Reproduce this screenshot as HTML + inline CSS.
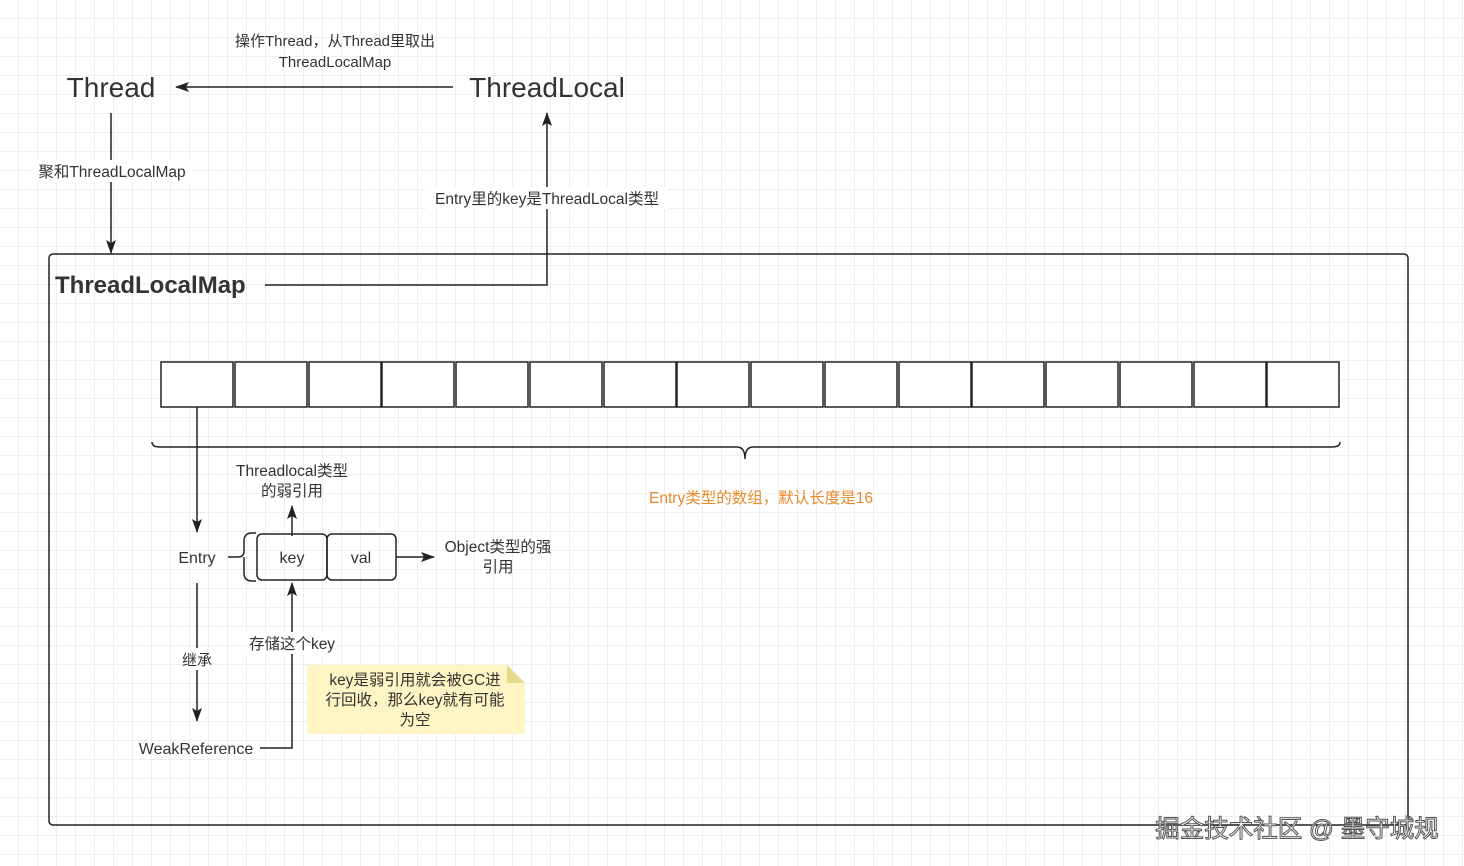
<!DOCTYPE html>
<html><head><meta charset="utf-8"><style>
html,body{margin:0;padding:0;background:#fff}
body{width:1464px;height:866px;overflow:hidden;
background-image:linear-gradient(#efefef 1px,transparent 1px),linear-gradient(90deg,#efefef 1px,transparent 1px);
background-size:19px 19px;background-position:-1px -1px;}
svg{position:absolute;left:0;top:0}
text{font-family:"Liberation Sans","Noto Sans CJK SC",sans-serif;fill:#333}
</style></head><body>
<svg width="1464" height="866" viewBox="0 0 1464 866">
<defs><marker id="a" markerWidth="14" markerHeight="12" refX="13" refY="6" orient="auto" markerUnits="userSpaceOnUse"><path d="M0,1 L14,6 L0,11 L3,6 Z" fill="#222"/></marker></defs>
<g stroke="#222" stroke-width="1.5" fill="none">
<line x1="453" y1="87" x2="176" y2="87" marker-end="url(#a)"/>
<line x1="111" y1="113" x2="111" y2="253" marker-end="url(#a)"/>
<polyline points="265,285 547,285 547,113" marker-end="url(#a)"/>
<rect x="49" y="254" width="1359" height="571" rx="4"/>
<line x1="197" y1="407" x2="197" y2="532" marker-end="url(#a)"/>
<path d="M152,442 q0,5 8,5 L737,447 q8,0 8,12 q0,-12 8,-12 L1332,447 q8,0 8,-5"/>
<line x1="197" y1="583" x2="197" y2="721" marker-end="url(#a)"/>
<polyline points="260,748 292,748 292,583" marker-end="url(#a)"/>
<line x1="292" y1="536" x2="292" y2="506" marker-end="url(#a)"/>
<line x1="396" y1="557" x2="434" y2="557" marker-end="url(#a)"/>
<path d="M228,557 h10 q6,0 6,-6 v-10 q0,-8 8,-8 h4 M244,557 q0,0 0,6 v10 q0,8 8,8 h4" />
<rect x="257" y="534" width="70" height="46" rx="5"/>
<rect x="327" y="534" width="69" height="46" rx="5"/>
</g>
<g stroke="#222" stroke-width="1.5" fill="#fff">
<rect x="161" y="362" width="72" height="45"/><rect x="235" y="362" width="72" height="45"/><rect x="309" y="362" width="72" height="45"/><rect x="382" y="362" width="72" height="45"/><rect x="456" y="362" width="72" height="45"/><rect x="530" y="362" width="72" height="45"/><rect x="604" y="362" width="72" height="45"/><rect x="677" y="362" width="72" height="45"/><rect x="751" y="362" width="72" height="45"/><rect x="825" y="362" width="72" height="45"/><rect x="899" y="362" width="72" height="45"/><rect x="972" y="362" width="72" height="45"/><rect x="1046" y="362" width="72" height="45"/><rect x="1120" y="362" width="72" height="45"/><rect x="1194" y="362" width="72" height="45"/><rect x="1267" y="362" width="72" height="45"/>
</g>
<path d="M307,665 L507,665 L525,683 L525,734 L307,734 Z" fill="#fff4c3"/>
<path d="M507,665 L525,683 L507,683 Z" fill="#e6d88c"/>
<text x="111" y="97" font-size="28" text-anchor="middle">Thread</text>
<text x="547" y="97" font-size="28" text-anchor="middle">ThreadLocal</text>
<text x="335" y="46" font-size="15" text-anchor="middle">操作Thread，从Thread里取出</text>
<text x="335" y="67" font-size="15" text-anchor="middle">ThreadLocalMap</text>
<rect x="32" y="160" width="160" height="22" fill="#fff"/>
<text x="112" y="177" font-size="15.5" text-anchor="middle">聚和ThreadLocalMap</text>
<rect x="426" y="187" width="242" height="22" fill="#fff"/>
<text x="547" y="204" font-size="15.5" text-anchor="middle">Entry里的key是ThreadLocal类型</text>
<text x="55" y="293" font-size="24" font-weight="bold">ThreadLocalMap</text>
<text x="761" y="503" font-size="15.5" text-anchor="middle" style="fill:#e8892a">Entry类型的数组，默认长度是16</text>
<text x="292" y="476" font-size="15.5" text-anchor="middle">Threadlocal类型</text>
<text x="292" y="496" font-size="15.5" text-anchor="middle">的弱引用</text>
<text x="197" y="563" font-size="16" text-anchor="middle">Entry</text>
<text x="292" y="563" font-size="16" text-anchor="middle">key</text>
<text x="361" y="563" font-size="16" text-anchor="middle">val</text>
<text x="498" y="552" font-size="15.5" text-anchor="middle">Object类型的强</text>
<text x="498" y="572" font-size="15.5" text-anchor="middle">引用</text>
<rect x="185" y="648" width="26" height="22" fill="#fff"/>
<text x="197" y="665" font-size="15" text-anchor="middle">继承</text>
<rect x="246" y="632" width="92" height="22" fill="#fff"/>
<text x="292" y="649" font-size="15.5" text-anchor="middle">存储这个key</text>
<text x="196" y="754" font-size="16" text-anchor="middle">WeakReference</text>
<text x="415" y="685" font-size="15.5" text-anchor="middle">key是弱引用就会被GC进</text>
<text x="415" y="705" font-size="15.5" text-anchor="middle">行回收，那么key就有可能</text>
<text x="415" y="725" font-size="15.5" text-anchor="middle">为空</text>
<text x="1297" y="837" font-size="24.5" text-anchor="middle" style="fill:#fff;stroke:#555;stroke-width:1">掘金技术社区 @ 墨守城规</text>
</svg>
</body></html>
